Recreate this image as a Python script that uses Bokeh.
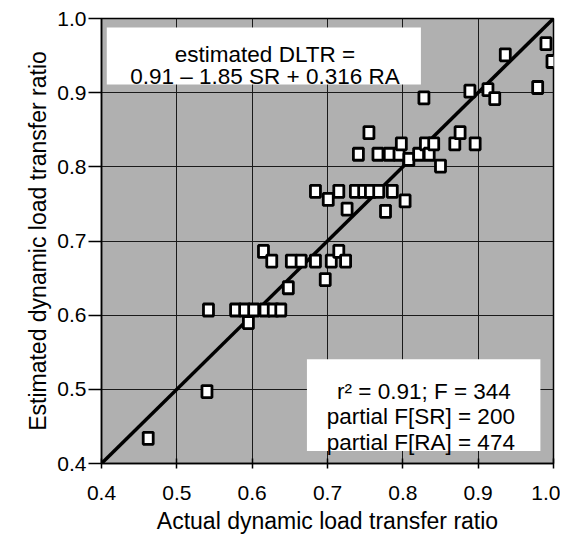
from bokeh.plotting import figure
from bokeh.models import FixedTicker, PrintfTickFormatter, BoxAnnotation, Label, ColumnDataSource
from bokeh.embed import file_html
from bokeh.resources import INLINE

actual = [0.462, 0.540, 0.542, 0.578, 0.590, 0.602, 0.617, 0.628, 0.638, 0.595,
          0.615, 0.626, 0.648, 0.652, 0.665, 0.684, 0.697, 0.705, 0.715, 0.724,
          0.684, 0.701, 0.715, 0.726, 0.737, 0.748, 0.757, 0.768, 0.777, 0.786,
          0.803, 0.741, 0.755, 0.767, 0.782, 0.795, 0.798, 0.808, 0.821, 0.830,
          0.835, 0.841, 0.850, 0.869, 0.876, 0.896, 0.828, 0.889, 0.913, 0.922,
          0.936, 0.979, 0.990, 0.998]
estimated = [0.434, 0.497, 0.607, 0.607, 0.607, 0.607, 0.607, 0.607, 0.607, 0.590,
             0.686, 0.673, 0.637, 0.673, 0.673, 0.673, 0.648, 0.673, 0.686, 0.673,
             0.767, 0.756, 0.767, 0.743, 0.767, 0.767, 0.767, 0.767, 0.740, 0.767,
             0.754, 0.817, 0.846, 0.817, 0.817, 0.817, 0.831, 0.810, 0.817, 0.831,
             0.817, 0.831, 0.801, 0.831, 0.846, 0.831, 0.893, 0.902, 0.904, 0.892,
             0.951, 0.907, 0.966, 0.942]
identity = [0.4, 1.0]
ticks = [0.4, 0.5, 0.6, 0.7, 0.8, 0.9, 1.0]
eq_lines = ["estimated DLTR =", "0.91 \u2013 1.85 SR + 0.316 RA"]
stat_lines = ["r\u00b2 = 0.91; F = 344", "partial F[SR] =  200", "partial F[RA] =  474"]

FONT = "Liberation Sans"

p = figure(output_backend="svg", toolbar_location=None,
           x_range=(0.4, 1.0), y_range=(0.4, 1.0),
           frame_width=452, frame_height=445,
           min_border_left=101, min_border_right=7, min_border_top=18, min_border_bottom=70,
           background_fill_color="#b0b0b0", border_fill_color="white")

p.outline_line_color = "black"
p.outline_line_width = 1.5

for ax in (p.xaxis[0], p.yaxis[0]):
    ax.ticker = FixedTicker(ticks=ticks)
    ax.formatter = PrintfTickFormatter(format="%.1f")
    ax.major_label_text_font = FONT
    ax.major_label_text_font_size = "21px"
    ax.major_label_text_color = "black"
    ax.axis_label_text_font = FONT
    ax.axis_label_text_font_size = "23px"
    ax.axis_label_text_font_style = "normal"
    ax.axis_label_text_color = "black"
    ax.axis_line_color = "black"
    ax.axis_line_width = 1.5
    ax.major_tick_line_color = "black"
    ax.major_tick_line_width = 1.5
    ax.minor_tick_line_color = None

p.xaxis.axis_label = "Actual dynamic load transfer ratio"
p.yaxis.axis_label = "Estimated dynamic load transfer ratio"
p.xaxis.major_tick_in = 5
p.xaxis.major_tick_out = 5
p.xaxis.major_label_standoff = 17
p.xaxis.axis_label_standoff = 5
p.yaxis.major_tick_in = 0
p.yaxis.major_tick_out = 13
p.yaxis.major_label_standoff = 2
p.yaxis.axis_label_standoff = 3

p.grid.grid_line_color = "#1a1a1a"
p.grid.grid_line_width = 1
p.grid.ticker = FixedTicker(ticks=ticks)

p.line(identity, identity, line_color="black", line_width=3.5)

src = ColumnDataSource(dict(x=actual, y=estimated))
p.rect("x", "y", width=10, height=12, width_units="screen", height_units="screen",
       source=src, fill_color="white", line_color="black", line_width=2.8)

p.add_layout(BoxAnnotation(left=0.407, right=0.824, top=0.988, bottom=0.911,
                           fill_color="white", fill_alpha=1.0, line_color=None))
for txt, yy in zip(eq_lines, [0.9447, 0.9155]):
    p.add_layout(Label(x=0.617, y=yy, y_offset=5, text=txt, text_align="center",
                       text_baseline="alphabetic",
                       text_font=FONT, text_font_size="22.5px", text_color="black"))

p.add_layout(BoxAnnotation(left=0.6727, right=0.9826, top=0.5404, bottom=0.4169,
                           fill_color="white", fill_alpha=1.0, line_color=None))
for txt, yy in zip(stat_lines, [0.4933, 0.4596, 0.4236]):
    p.add_layout(Label(x=0.828, y=yy, y_offset=3, text=txt, text_align="center",
                       text_baseline="alphabetic",
                       text_font=FONT, text_font_size="22.5px", text_color="black"))

open("out.html", "w").write(file_html(p, INLINE))
